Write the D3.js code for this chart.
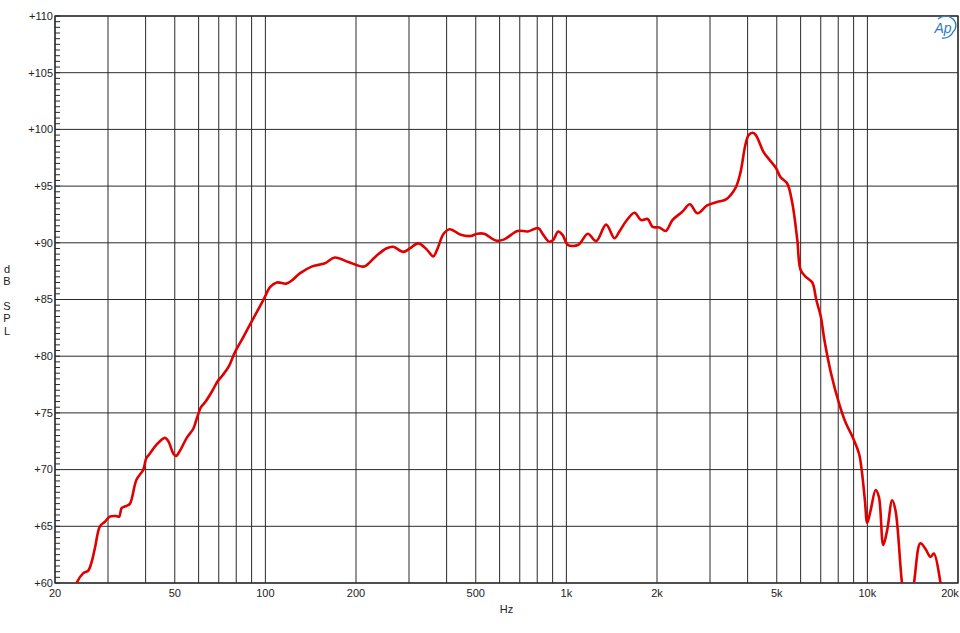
<!DOCTYPE html>
<html><head><meta charset="utf-8">
<script src="https://cdn.jsdelivr.net/npm/d3@7"></script>
<style>body{margin:0;background:#fff}svg{display:block}text{font-family:"Liberation Sans",Arial,sans-serif}</style>
</head><body>
<script>
const freqs = [22,23.7,24.8,25.8,26.5,27.2,28.2,29.3,30.4,32.0,32.7,33.3,34.6,35.5,37.3,39.3,40.2,41.3,43.5,46.4,47.6,49.5,50.5,52.1,54.8,57.6,59.0,61.1,63.3,66.8,69.4,72.0,75.6,78.9,84.1,89.8,95.9,99.7,103.6,109.2,117.3,122.0,130.1,142.4,157.8,169.9,188.7,209.6,214.9,232.6,252,266,287,302,322,344,361,372,391,410,446,481,506,533,583,622,688,745,806,838,877,904,939,971,1013,1093,1121,1178,1256,1355,1444,1500,1578,1684,1771,1862,1935,2036,2140,2250,2430,2571,2725,2935,3170,3380,3640,3780,3930,4030,4160,4260,4520,4700,4970,5140,5410,5630,5850,6000,6240,6560,6760,7000,7200,7570,8060,8480,8920,9380,9570,9810,9990,10250,10650,10920,11290,11640,12090,12400,13030,13600,14280,15000,15600,16210,16630,17500,18200];
const splDb = [57,60.1,60.85,61.1,61.9,63.2,65.0,65.4,65.85,65.9,65.85,66.6,66.8,67.0,69.1,70.0,71.0,71.4,72.2,72.8,72.5,71.4,71.2,71.7,72.8,73.6,74.4,75.5,76.0,77.0,77.8,78.3,79.1,80.25,81.6,83.0,84.4,85.25,86.1,86.5,86.4,86.65,87.3,87.9,88.2,88.7,88.3,87.9,87.95,88.8,89.5,89.65,89.2,89.5,89.95,89.4,88.8,89.4,90.8,91.2,90.7,90.6,90.8,90.8,90.2,90.3,91.05,91.0,91.3,90.7,90.1,90.25,91.0,90.7,89.8,89.8,90.1,90.8,90.15,91.6,90.4,91.0,91.9,92.65,92.0,92.1,91.4,91.35,91.05,92.0,92.75,93.4,92.6,93.3,93.6,93.8,94.8,96.1,98.6,99.5,99.7,99.5,98.0,97.4,96.6,95.8,95.25,93.5,90.25,87.6,87.0,86.5,85.0,83.5,81.4,78.5,75.8,74.1,72.9,71.4,70.0,67.3,65.3,66.4,68.2,67.6,63.35,64.7,67.3,66.4,60,56.5,60,63.5,63.0,62.3,62.6,60,57];
const xTickVals = [20,50,100,200,500,1000,2000,5000,10000,20000];
const xTickLabels = ["20","50","100","200","500","1k","2k","5k","10k","20k"];
const xGridVals = [20,30,40,50,60,70,80,90,100,200,300,400,500,600,700,800,900,1000,2000,3000,4000,5000,6000,7000,8000,9000,10000,20000];
const yTickVals = [60,65,70,75,80,85,90,95,100,105,110];
const yTickLabels = ["+60","+65","+70","+75","+80","+85","+90","+95","+100","+105","+110"];
const yLabelLetters = ["d","B","","S","P","L"];

const W=960,H=633;
const m={l:55,r:958,t:16,b:583};
const svg=d3.select("body").append("svg").attr("width",W).attr("height",H);
const x=d3.scaleLog().domain([20,20000]).range([m.l,m.r]);
const y=d3.scaleLinear().domain([60,110]).range([m.b,m.t]);

// grid
const g=svg.append("g");
g.selectAll("line.v").data(xGridVals).join("line")
 .attr("x1",d=>x(d)).attr("x2",d=>x(d)).attr("y1",m.t).attr("y2",m.b)
 .attr("stroke","#2a2a2a").attr("stroke-width",1);
g.selectAll("line.h").data(yTickVals).join("line")
 .attr("y1",d=>y(d)).attr("y2",d=>y(d)).attr("x1",m.l).attr("x2",m.r)
 .attr("stroke","#2a2a2a").attr("stroke-width",1);
// minor y ticks
const minor=d3.range(60,110.01,0.5);
g.selectAll("line.mt").data(minor).join("line")
 .attr("x1",m.l).attr("x2",m.l+5).attr("y1",d=>y(d)).attr("y2",d=>y(d))
 .attr("stroke","#2a2a2a").attr("stroke-width",1);
// frame
svg.append("rect").attr("x",m.l).attr("y",m.t).attr("width",m.r-m.l).attr("height",m.b-m.t)
 .attr("fill","none").attr("stroke","#2a2a2a").attr("stroke-width",1.3);

// axis labels
svg.append("g").selectAll("text").data(yTickVals).join("text")
 .attr("x",m.l-2).attr("y",d=>y(d)).attr("dy","0.35em").attr("text-anchor","end")
 .attr("font-size",11).attr("fill","#222").text((d,i)=>yTickLabels[i]);
svg.append("g").selectAll("text").data(xTickVals).join("text")
 .attr("x",(d,i)=>Math.min(x(d),950)).attr("y",597).attr("text-anchor","middle")
 .attr("font-size",11).attr("fill","#222").text((d,i)=>xTickLabels[i]);
svg.append("text").attr("x",(m.l+m.r)/2).attr("y",613).attr("text-anchor","middle")
 .attr("font-size",11).attr("fill","#222").text("Hz");
svg.append("g").selectAll("text").data(yLabelLetters).join("text")
 .attr("x",7).attr("y",(d,i)=>273+i*12.3).attr("text-anchor","middle")
 .attr("font-size",11).attr("fill","#222").text(d=>d);

// curve
const data=freqs.map((f,i)=>[f,splDb[i]]);
svg.append("clipPath").attr("id","clip").append("rect")
 .attr("x",m.l).attr("y",m.t).attr("width",m.r-m.l).attr("height",m.b-m.t);
svg.append("path").datum(data).attr("clip-path","url(#clip)")
 .attr("fill","none").attr("stroke","#e00000").attr("stroke-width",2.6)
 .attr("stroke-linejoin","round")
 .attr("d",d3.line().x(d=>x(d[0])).y(d=>y(d[1])).curve(d3.curveCatmullRom.alpha(0.5)));

// Ap logo
const lg=svg.append("g").attr("transform","translate(944,28)");
lg.append("text").attr("x",-1).attr("y",5).attr("text-anchor","middle")
 .attr("font-size",14).attr("font-style","italic").attr("fill","#2b7cc4").text("Ap");
lg.append("path").attr("d","M-6,-9 A10,9 0 0 1 9,4 A10,9 0 0 1 -2,10")
 .attr("fill","none").attr("stroke","#2b7cc4").attr("stroke-width",1.3);
</script>
</body></html>
